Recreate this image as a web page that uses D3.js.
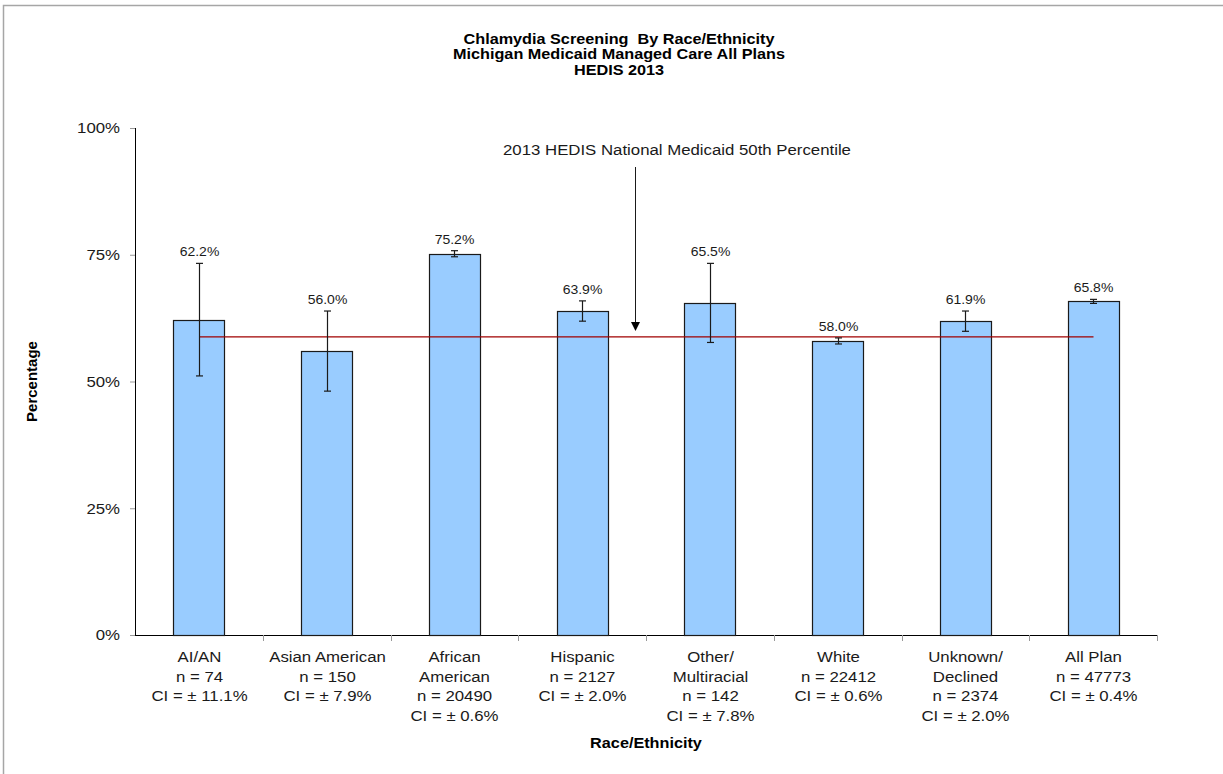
<!DOCTYPE html>
<html>
<head>
<meta charset="utf-8">
<script src="https://cdn.jsdelivr.net/npm/d3@7"></script>
<style>
  body { margin: 0; background: #fff; }
  svg { display: block; font-family: Arial, "Liberation Sans", sans-serif; }
</style>
</head>
<body>
<div id="chart"></div>
<script>
'use strict';

// data
const categories = ['AI/AN', 'Asian American', 'African American', 'Hispanic', 'Other/Multiracial', 'White', 'Unknown/Declined', 'All Plan'];
const labelLines = [
    ['AI/AN'],
    ['Asian American'],
    ['African', 'American'],
    ['Hispanic'],
    ['Other/', 'Multiracial'],
    ['White'],
    ['Unknown/', 'Declined'],
    ['All Plan']
];
const rates = [62.2, 56.0, 75.2, 63.9, 65.5, 58.0, 61.9, 65.8];
const counts = [74, 150, 20490, 2127, 142, 22412, 2374, 47773];
const ci = [11.1, 7.9, 0.6, 2.0, 7.8, 0.6, 2.0, 0.4];
const nationalP50 = 58.8;
const yTicks = [0, 25, 50, 75, 100];

const width = 1223, height = 774;
const margin = { top: 128, right: 66, bottom: 139, left: 135 };
const graphWidth = width - margin.left - margin.right;
const graphHeight = height - margin.top - margin.bottom;

// the original chart text is a bit wider than plain Arial
const SX = 1.12;

const svg = d3.select('#chart')
    .append('svg')
    .attr('width', width)
    .attr('height', height);

// helper: text block stretched horizontally, one tspan per line
const wideText = (parent, x, y, lines, size, lineHeight, bold) => {
    const t = parent.append('text')
        .attr('transform', `translate(${x}, ${y}) scale(${SX}, 1)`)
        .attr('text-anchor', 'middle')
        .attr('font-size', size + 'px')
        .attr('font-weight', bold ? 'bold' : 'normal')
        .attr('fill', '#1a1a1a')
        .style('white-space', 'pre');
    t.selectAll('tspan')
        .data(lines)
        .join('tspan')
        .attr('x', 0)
        .attr('y', (d, i) => i * lineHeight)
        .text(d => d);
    return t;
};

// outer frame (only top/left visible)
svg.append('path')
    .attr('d', `M3.5,${height} L3.5,5.5 L${width},5.5`)
    .attr('fill', 'none')
    .attr('stroke', '#a6a6a6')
    .attr('stroke-width', 1.5);

// titles
wideText(svg, 619, 44,
    ['Chlamydia Screening  By Race/Ethnicity', 'Michigan Medicaid Managed Care All Plans', 'HEDIS 2013'],
    14.5, 15.5, true).attr('fill', '#000');

const graph = svg.append('g')
    .attr('transform', `translate(${margin.left}, ${margin.top})`);

// scales
const x = d3.scaleBand().domain(categories).range([0, graphWidth]).paddingInner(0.6).paddingOuter(0.3);
const xTick = d3.scaleLinear().domain([0, categories.length]).range([0, graphWidth]);
const y = d3.scaleLinear().domain([0, 100]).range([graphHeight, 0]);

// y axis
const yAxis = d3.axisLeft(y)
    .tickValues(yTicks)
    .tickSize(5)
    .tickPadding(10)
    .tickFormat(d => d + '%');

const yAxisGroup = graph.append('g').call(yAxis);
yAxisGroup.select('.domain').attr('stroke', '#000').attr('d', `M0.5,0V${graphHeight + 0.5}`);
yAxisGroup.selectAll('.tick line').attr('stroke', '#999');
yAxisGroup.selectAll('text')
    .attr('font-size', '15px')
    .attr('fill', '#1a1a1a')
    .attr('font-family', 'Arial, "Liberation Sans", sans-serif')
    .attr('x', -15 / SX)
    .attr('transform', `scale(${SX}, 1)`);

// x axis baseline and separator ticks
graph.append('line')
    .attr('x1', 0).attr('x2', graphWidth)
    .attr('y1', graphHeight + 0.5).attr('y2', graphHeight + 0.5)
    .attr('stroke', '#000');

graph.selectAll('.sep')
    .data(d3.range(1, categories.length + 1))
    .join('line')
    .attr('class', 'sep')
    .attr('x1', d => Math.round(xTick(d)) + 0.5)
    .attr('x2', d => Math.round(xTick(d)) + 0.5)
    .attr('y1', graphHeight)
    .attr('y2', graphHeight + 6)
    .attr('stroke', '#999');

// bars
graph.selectAll('rect.bar')
    .data(rates)
    .join('rect')
    .attr('class', 'bar')
    .attr('x', (d, i) => Math.round(x(categories[i])) + 0.5)
    .attr('y', d => Math.round(y(d)) + 0.5)
    .attr('width', Math.round(x.bandwidth()))
    .attr('height', d => graphHeight - Math.round(y(d)))
    .attr('fill', '#99ccff')
    .attr('stroke', '#1a1a1a')
    .attr('stroke-width', 1.2);

// reference line
const cx = i => Math.round(x(categories[i]) + x.bandwidth() / 2) + 0.5;
graph.append('line')
    .attr('x1', cx(0))
    .attr('x2', cx(categories.length - 1))
    .attr('y1', y(nationalP50))
    .attr('y2', y(nationalP50))
    .attr('stroke', '#a00000')
    .attr('stroke-width', 1.3);

// error bars
const err = graph.selectAll('g.err')
    .data(rates)
    .join('g')
    .attr('class', 'err')
    .attr('stroke', '#1a1a1a')
    .attr('stroke-width', 1.2);

err.append('line')
    .attr('x1', (d, i) => cx(i)).attr('x2', (d, i) => cx(i))
    .attr('y1', (d, i) => y(d - ci[i])).attr('y2', (d, i) => y(d + ci[i]));
err.append('line')
    .attr('x1', (d, i) => cx(i) - 3.5).attr('x2', (d, i) => cx(i) + 3.5)
    .attr('y1', (d, i) => y(d - ci[i])).attr('y2', (d, i) => y(d - ci[i]));
err.append('line')
    .attr('x1', (d, i) => cx(i) - 3.5).attr('x2', (d, i) => cx(i) + 3.5)
    .attr('y1', (d, i) => y(d + ci[i])).attr('y2', (d, i) => y(d + ci[i]));

// value labels
rates.forEach((d, i) => {
    wideText(graph, cx(i), y(d + ci[i]) - 7, [d.toFixed(1) + '%'], 12.5, 0, false);
});

// category labels
categories.forEach((d, i) => {
    const lines = labelLines[i].concat(['n = ' + counts[i], 'CI = \u00b1 ' + ci[i].toFixed(1) + '%']);
    wideText(graph, cx(i), graphHeight + 27, lines, 15, 19.6, false);
});

// axis titles
svg.append('text')
    .attr('transform', `translate(37, ${margin.top + graphHeight / 2}) rotate(-90)`)
    .attr('text-anchor', 'middle')
    .attr('font-size', '15px')
    .attr('font-weight', 'bold')
    .attr('fill', '#000')
    .text('Percentage');

wideText(svg, margin.left + graphWidth / 2, 748, ['Race/Ethnicity'], 14.5, 0, true).attr('fill', '#000');

// annotation with arrow
const arrowX = 635;
wideText(svg, 677, 155, ['2013 HEDIS National Medicaid 50th Percentile'], 15, 0, false);

svg.append('line')
    .attr('x1', arrowX + 0.5).attr('x2', arrowX + 0.5)
    .attr('y1', 167).attr('y2', 324)
    .attr('stroke', '#1a1a1a')
    .attr('stroke-width', 1);

svg.append('path')
    .attr('d', `M${arrowX - 4},${322} L${arrowX + 5},${322} L${arrowX + 0.5},${331} Z`)
    .attr('fill', '#000');
</script>
</body>
</html>
